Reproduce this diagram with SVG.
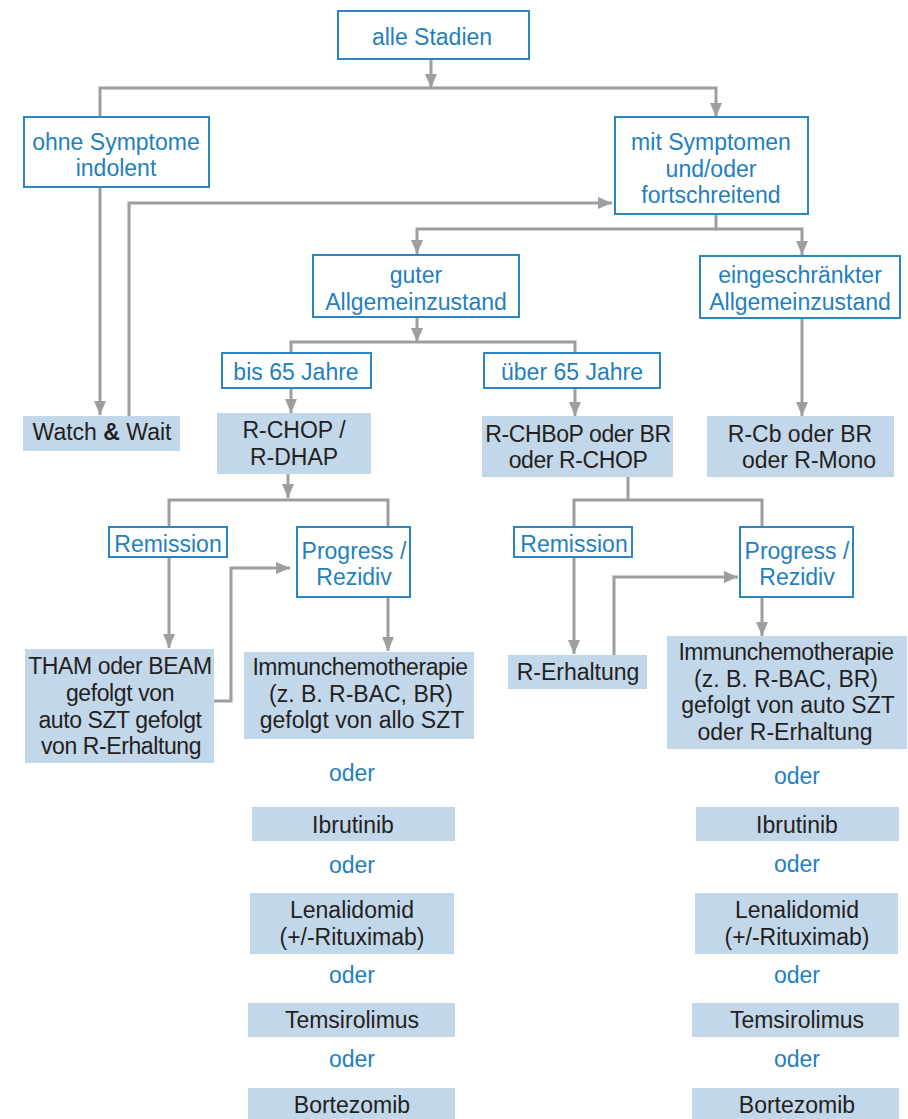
<svg xmlns="http://www.w3.org/2000/svg" width="908" height="1119" viewBox="0 0 908 1119">
<defs>
<style>
.b{fill:#fff;stroke:#2a86c0;stroke-width:2}
.f{fill:#c3d7eb}
.tb{font-family:"Liberation Sans",Arial,sans-serif;font-size:23px;fill:#1f80bd;text-anchor:middle}
.td{font-family:"Liberation Sans",Arial,sans-serif;font-size:23px;fill:#231f20;text-anchor:middle}
.n{letter-spacing:-0.4px}
.c{fill:none;stroke:#9d9ea1;stroke-width:3}
</style>
<marker id="a" viewBox="0 0 14 12" refX="14" refY="6" markerWidth="14" markerHeight="12" markerUnits="userSpaceOnUse" orient="auto">
<path d="M0,0 L14,6 L0,12 z" fill="#9d9ea1"/>
</marker>
</defs>
<rect width="908" height="1119" fill="#fff"/>
<g id="connectors">
<path class="c" d="M431,60 V88" marker-end="url(#a)"/>
<path class="c" d="M100,117 V88 H716 V117" marker-end="url(#a)"/>
<path class="c" d="M100,188 V415" marker-end="url(#a)"/>
<path class="c" d="M129,417 V203 H612" marker-end="url(#a)"/>
<path class="c" d="M716,215 V229 H417 V254" marker-end="url(#a)"/>
<path class="c" d="M716,229 H802 V255" marker-end="url(#a)"/>
<path class="c" d="M417,317 V342" marker-end="url(#a)"/>
<path class="c" d="M291,353 V342 H575 V353"/>
<path class="c" d="M291,388 V413" marker-end="url(#a)"/>
<path class="c" d="M575,388 V416" marker-end="url(#a)"/>
<path class="c" d="M802,318 V416" marker-end="url(#a)"/>
<path class="c" d="M288,474 V498" marker-end="url(#a)"/>
<path class="c" d="M169,527 V500 H388 V527"/>
<path class="c" d="M169,557 V648" marker-end="url(#a)"/>
<path class="c" d="M214,701 H231 V568 H290" marker-end="url(#a)"/>
<path class="c" d="M388,597 V651" marker-end="url(#a)"/>
<path class="c" d="M628,477 V500"/>
<path class="c" d="M574,527 V500 H762 V527"/>
<path class="c" d="M574,557 V654" marker-end="url(#a)"/>
<path class="c" d="M614,655 V577 H738" marker-end="url(#a)"/>
<path class="c" d="M762,597 V636" marker-end="url(#a)"/>
</g>
<g id="alle"><rect class="b" x="338" y="11" width="191" height="48"/><text class="tb" x="432" y="45">alle Stadien</text></g>
<g id="ohne"><rect class="b" x="24" y="117" width="185" height="70"/><text class="tb" x="116" y="150">ohne Symptome</text><text class="tb" x="116" y="176">indolent</text></g>
<g id="mit"><rect class="b" x="615" y="117" width="193" height="97"/><text class="tb" x="711" y="150">mit Symptomen</text><text class="tb" x="711" y="177">und/oder</text><text class="tb" x="711" y="203">fortschreitend</text></g>
<g id="watch"><rect class="f" x="23" y="416" width="157" height="35"/><text class="td" x="102" y="440">Watch <tspan font-weight="bold">&amp;</tspan> Wait</text></g>
<g id="guter"><rect class="b" x="313" y="255" width="206" height="62"/><text class="tb" x="416" y="283">guter</text><text class="tb" x="416" y="310">Allgemeinzustand</text></g>
<g id="eing"><rect class="b" x="700" y="256" width="200" height="62"/><text class="tb" x="800" y="283">eingeschränkter</text><text class="tb" x="800" y="310">Allgemeinzustand</text></g>
<g id="bis"><rect class="b" x="222" y="353" width="149" height="35"/><text class="tb" x="296" y="380">bis 65 Jahre</text></g>
<g id="ueber"><rect class="b" x="484" y="353" width="176" height="35"/><text class="tb" x="572" y="380">über 65 Jahre</text></g>
<g id="rchop"><rect class="f" x="217" y="413" width="154" height="61"/><text class="td" x="294" y="438">R-CHOP /</text><text class="td" x="294" y="465">R-DHAP</text></g>
<g id="rchbop"><rect class="f" x="482" y="416" width="191" height="61"/><text class="td n" x="578" y="442">R-CHBoP oder BR</text><text class="td n" x="578" y="468">oder R-CHOP</text></g>
<g id="rcb"><rect class="f" x="707" y="416" width="187" height="61"/><text class="td" x="800" y="442">R-Cb oder BR</text><text class="td" x="809" y="468">oder R-Mono</text></g>
<g id="rem1"><rect class="b" x="109" y="527" width="118" height="30"/><text class="tb" x="168" y="552">Remission</text></g>
<g id="prog1"><rect class="b" x="297" y="527" width="113" height="70"/><text class="tb" x="354" y="559">Progress /</text><text class="tb" x="354" y="585">Rezidiv</text></g>
<g id="rem2"><rect class="b" x="514" y="527" width="118" height="30"/><text class="tb" x="574" y="552">Remission</text></g>
<g id="prog2"><rect class="b" x="740" y="527" width="113" height="70"/><text class="tb" x="797" y="559">Progress /</text><text class="tb" x="797" y="585">Rezidiv</text></g>
<g id="tham"><rect class="f" x="25" y="649" width="189" height="114"/><text class="td n" x="120" y="674">THAM oder BEAM</text><text class="td n" x="120" y="701">gefolgt von</text><text class="td n" x="120" y="728">auto SZT gefolgt</text><text class="td n" x="121" y="754">von R-Erhaltung</text></g>
<g id="immun1"><rect class="f" x="244" y="652" width="230" height="87"/><text class="td n" x="360" y="675">Immunchemotherapie</text><text class="td" x="361" y="702">(z. B. R-BAC, BR)</text><text class="td" x="362" y="728">gefolgt von allo SZT</text></g>
<g id="rerh"><rect class="f" x="508" y="655" width="139" height="34"/><text class="td" x="578" y="680">R-Erhaltung</text></g>
<g id="immun2"><rect class="f" x="667" y="636" width="240" height="113"/><text class="td n" x="786" y="660">Immunchemotherapie</text><text class="td" x="786" y="687">(z. B. R-BAC, BR)</text><text class="td" x="788" y="713">gefolgt von auto SZT</text><text class="td" x="785" y="740">oder R-Erhaltung</text></g>
<g id="list1">
<text class="tb" x="352" y="781">oder</text>
<rect class="f" x="252" y="807" width="203" height="34"/><text class="td" x="353" y="833">Ibrutinib</text>
<text class="tb" x="352" y="873">oder</text>
<rect class="f" x="250" y="893" width="204" height="61"/><text class="td" x="352" y="918">Lenalidomid</text><text class="td" x="352" y="945">(+/-Rituximab)</text>
<text class="tb" x="352" y="983">oder</text>
<rect class="f" x="248" y="1003" width="207" height="34"/><text class="td" x="352" y="1028">Temsirolimus</text>
<text class="tb" x="352" y="1067">oder</text>
<rect class="f" x="248" y="1088" width="207" height="31"/><text class="td" x="352" y="1113">Bortezomib</text>
</g>
<g id="list2">
<text class="tb" x="797" y="784">oder</text>
<rect class="f" x="696" y="807" width="203" height="34"/><text class="td" x="797" y="833">Ibrutinib</text>
<text class="tb" x="797" y="872">oder</text>
<rect class="f" x="695" y="893" width="203" height="61"/><text class="td" x="797" y="918">Lenalidomid</text><text class="td" x="797" y="945">(+/-Rituximab)</text>
<text class="tb" x="797" y="983">oder</text>
<rect class="f" x="692" y="1003" width="207" height="34"/><text class="td" x="797" y="1028">Temsirolimus</text>
<text class="tb" x="797" y="1067">oder</text>
<rect class="f" x="692" y="1088" width="207" height="31"/><text class="td" x="797" y="1113">Bortezomib</text>
</g>
</svg>
